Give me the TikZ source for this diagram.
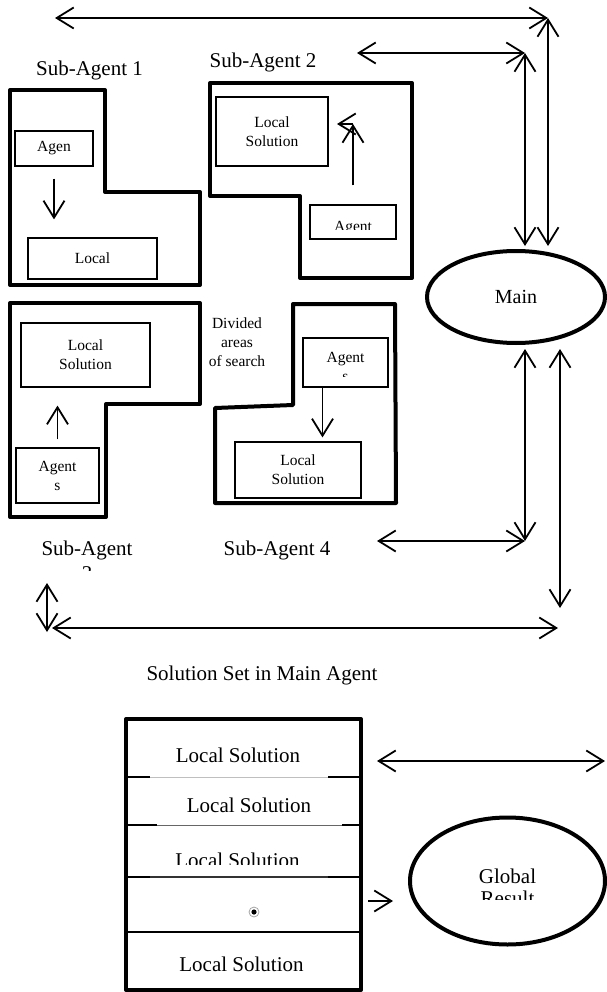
\documentclass[tikz,border=0pt]{standalone}
\usepackage{fontspec}
\setmainfont{Liberation Serif}
\usetikzlibrary{arrows.meta,shapes.geometric}
\begin{document}
\begin{tikzpicture}[x=1pt,y=-1pt,
  every node/.style={font=\fontsize{15.5}{19}\selectfont,align=center,inner sep=0pt},
  big/.style={font=\fontsize{21}{24}\selectfont},
  zone/.style={line width=4pt,line join=round},
  kutu/.style={draw,line width=1.2pt},
  one/.style={line width=1.8pt,-{Straight Barb[length=17pt,width=21pt]}},
  dbl/.style={line width=1.8pt,{Straight Barb[length=17pt,width=21pt]}-{Straight Barb[length=17pt,width=21pt]}},
  rule/.style={line width=1.3pt},
  faint/.style={line width=0.8pt,black!25}]
\useasboundingbox (0,0) rectangle (606,992);
% divided areas of search
\draw[zone] (10,90) -- (105,90) -- (105,192) -- (200,192) -- (200,285) -- (10,285) -- cycle;
\draw[zone] (210,83) -- (412,83) -- (412,278) -- (300,278) -- (300,196) -- (210,196) -- cycle;
\draw[zone] (10,303) -- (200,303) -- (200,404) -- (106,404) -- (106,517) -- (10,517) -- cycle;
\draw[zone] (293,304) -- (395,304) -- (396,503) -- (215,503) -- (215,408) -- (293,405) -- cycle;
\node[big] (sa1) at (89.5,70) {Sub-Agent 1};
\node[big] (sa2) at (263,62) {Sub-Agent 2};
\node[big] (sa3) at (87,550) {Sub-Agent};
\begin{scope}
  \clip (60,555) rectangle (120,570);
  \node[big,anchor=base] (sa3n) at (87,580) {3};
\end{scope}
\node[big] (sa4) at (277,550) {Sub-Agent 4};
\node (dv) at (237,342) {Divided\\areas\\of search};
% sub-agent 1
\node[kutu,minimum width=78pt,minimum height=35pt] (s1a) at (54,148.5) {Agen};
\node[kutu,minimum width=129pt,minimum height=41pt] (s1l) at (92.5,258.5) {Local};
\draw[one,shorten <=12pt,shorten >=18pt] (s1a.south) -- (s1a.south |- s1l.north);
% sub-agent 2
\node[kutu,minimum width=112pt,minimum height=69pt] (s2l) at (272,131.5) {Local\\Solution};
\node[kutu,minimum width=86pt,minimum height=34pt] (s2a) at (353,222) {};
\begin{scope}
  \clip (s2a.north west) rectangle (396,230);
  \node[anchor=base] (s2t) at (353,231.5) {Agent};
\end{scope}
\coordinate (s2k) at (353,124);
\coordinate (s2m) at (337,124);
\draw[one,shorten <=19pt] (s2a.north) -- (s2k);
\draw[one] (s2k) -- (s2m);
% sub-agent 3
\node[kutu,minimum width=129pt,minimum height=64pt] (s3l) at (85.5,355) {Local\\Solution};
\node[kutu,minimum width=83pt,minimum height=55pt] (s3a) at (57.5,475.5) {Agent\\s};
\draw[one,shorten <=8pt,shorten >=18pt] (s3a.north) -- (s3a.north |- s3l.south);
% sub-agent 4
\node[kutu,minimum width=85pt,minimum height=49pt] (s4a) at (345.5,362.5) {};
\begin{scope}
  \clip (s4a.north west) rectangle (388,376);
  \node[anchor=base] (s4t) at (345.5,381) {Agent\\s};
\end{scope}
\node[kutu,minimum width=126pt,minimum height=56pt] (s4l) at (298,470) {Local\\Solution};
\draw[one,shorten >=4pt] ([xshift=-23pt]s4a.south) -- ([xshift=-23pt]s4a.south |- s4l.north);
% main agent and links
\node[zone,draw,ellipse,minimum width=178pt,minimum height=92pt,font=\fontsize{20}{24}\selectfont] (main) at (516,297) {Main};
\coordinate (t1) at (55,18);
\coordinate (t2) at (548,18);
\coordinate (u1) at (357,53);
\coordinate (u2) at (525,53);
\coordinate (v0) at (377,541);
\coordinate (v1) at (525,541);
\coordinate (w1) at (560,608);
\coordinate (x0) at (52,628);
\coordinate (x1) at (558,628);
\coordinate (y0) at (47,583);
\coordinate (y1) at (47,632);
\draw[dbl] (t1) -- (t2);
\draw[dbl,shorten >=3pt] (t2) -- (t2 |- main.north);
\draw[dbl] (u1) -- (u2);
\draw[dbl,shorten >=3pt] (u2) -- (u2 |- main.north);
\draw[dbl,shorten <=4pt] (main.south -| v1) -- (v1);
\draw[dbl] (v0) -- (v1);
\draw[dbl,shorten <=4pt] (main.south -| w1) -- (w1);
\draw[dbl] (x0) -- (x1);
\draw[dbl] (y0) -- (y1);
% solution set
\node[big] (ttl) at (262,675) {Solution Set in Main Agent};
\node[zone,draw,minimum width=235pt,minimum height=271pt] (set) at (243.5,854.5) {};
\draw[faint] (150,777) -- (328,777);
\draw[rule] (128,777) -- (150,777);
\draw[rule] (328,777) -- (359,777);
\draw[faint,black!60] (157,825) -- (342,825);
\draw[rule] (128,825) -- (157,825);
\draw[rule] (342,825) -- (359,825);
\draw[rule,black!80] (150,877) -- (328,877);
\draw[rule] (128,877) -- (150,877);
\draw[rule] (328,877) -- (359,877);
\draw[rule] (128,932) -- (359,932);
\node[big,anchor=base] (r1) at (238,762.7) {Local Solution};
\node[big,anchor=base] (r2) at (249,812) {Local Solution};
\begin{scope}
  \clip (130,840) rectangle (355,864);
  \node[big,anchor=base] (r3) at (237.5,867) {Local Solution};
\end{scope}
\node[circle,draw=black!35,line width=0.8pt,minimum size=10pt] (dot) at (254,912) {};
\fill (dot.center) circle (2.6pt);
\node[big,anchor=base] (r5) at (241.5,971.7) {Local Solution};
% global result
\node[zone,draw,ellipse,minimum width=195pt,minimum height=127pt] (glob) at (507.5,881) {};
\begin{scope}
  \clip (440,850) rectangle (580,899);
  \node[anchor=base,font=\fontsize{21}{22.5}\selectfont] (gt) at (507.5,905.5) {Global\\Result};
\end{scope}
\coordinate (z0) at (377,761);
\coordinate (z1) at (605,761);
\coordinate (g0) at (368,901);
\draw[dbl] (z0) -- (z1);
\draw[one,shorten >=15pt] (g0) -- (glob.west |- g0);
\end{tikzpicture}
\end{document}
